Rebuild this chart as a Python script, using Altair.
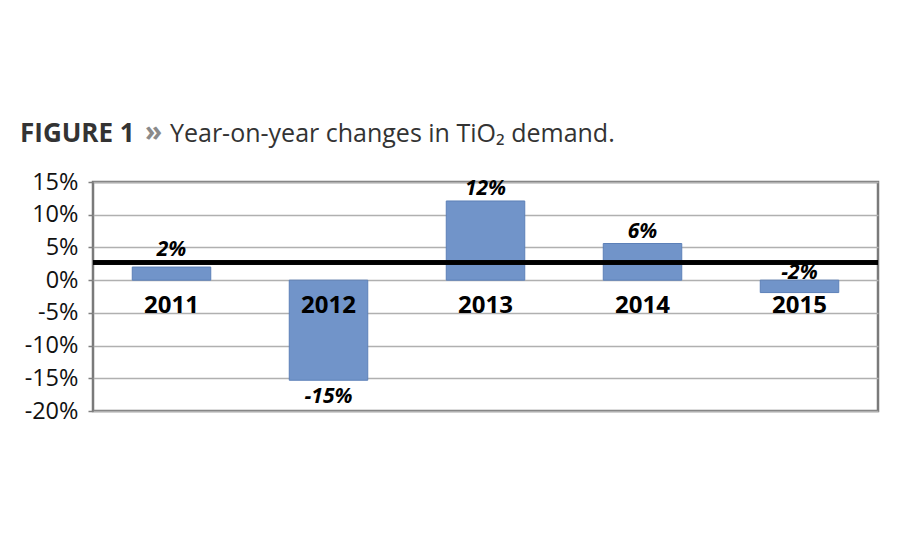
import altair as alt
import pandas as pd

years = ["2011", "2012", "2013", "2014", "2015"]
values = [2.0, -15.3, 12.1, 5.6, -1.9]
labels = ["2%", "-15%", "12%", "6%", "-2%"]
ref_value = 2.7
y_ticks = [-20, -15, -10, -5, 0, 5, 10, 15]

title_bold = "FIGURE 1"
title_sep = "»"
title_rest = "Year-on-year changes in TiO₂ demand."

df = pd.DataFrame({"year": years, "v": values, "label": labels})

FONT = "Open Sans"

x = alt.X("year:N", sort=years, axis=None,
          scale=alt.Scale(paddingInner=0.5, paddingOuter=0.25))
yscale = alt.Scale(domain=[-20, 15], nice=False, zero=False)
yaxis = alt.Axis(values=y_ticks, labelExpr="datum.value + '%'", title=None,
                 domain=False, ticks=True, tickSize=5, tickColor="#7f7f7f",
                 tickWidth=1.5, grid=True, gridColor="#b0b0b0", gridWidth=1.5,
                 labelFont=FONT, labelFontSize=23.5, labelColor="#111",
                 labelPadding=10, labelOverlap=False, labelFlush=False,
                 labelBound=False)


def yf(field):
    return alt.Y(field, scale=yscale, axis=yaxis)


def yd(val):
    return alt.YDatum(val, type="quantitative", scale=yscale, axis=yaxis)


base = alt.Chart(df)

bars = base.mark_bar(color="#7194c9", stroke="#5c80b8", strokeWidth=1).encode(
    x=x, y=yf("v:Q"))

rule = base.mark_rule(color="black", strokeWidth=4).encode(y=yd(ref_value))

year_text = base.mark_text(font=FONT, fontSize=24, fontWeight="bold", color="black",
                           baseline="alphabetic", dy=33).encode(
    x=x, y=yd(0), text="year:N")

label_style = dict(font=FONT, fontSize=21, fontWeight="bold", fontStyle="italic",
                   color="black")

pos_labels = base.transform_filter("datum.v > 0").transform_calculate(
    ly=f"max(datum.v, {ref_value})").mark_text(
    baseline="alphabetic", dy=-6, **label_style).encode(
    x=x, y=yf("ly:Q"), text="label:N")

small_neg_labels = base.transform_filter("datum.v <= 0 && datum.v > -10").transform_calculate(
    ly="0").mark_text(baseline="alphabetic", dy=-1, **label_style).encode(
    x=x, y=yf("ly:Q"), text="label:N")

neg_labels = base.transform_filter("datum.v <= -10").mark_text(
    baseline="top", dy=6, **label_style).encode(
    x=x, y=yf("v:Q"), text="label:N")

t1 = alt.Chart(pd.DataFrame({"t": [title_bold]})).mark_text(
    font=FONT, fontSize=26, fontWeight="bold", color="#333333", align="left",
    baseline="alphabetic").encode(x=alt.value(-73), y=alt.value(-40), text="t:N")
t2 = alt.Chart(pd.DataFrame({"t": [title_sep]})).mark_text(
    font=FONT, fontSize=28, fontWeight="bold", color="#8a8a8a", align="left",
    baseline="alphabetic").encode(x=alt.value(52), y=alt.value(-41), text="t:N")
t3 = alt.Chart(pd.DataFrame({"t": [title_rest]})).mark_text(
    font=FONT, fontSize=25, color="#333333", align="left",
    baseline="alphabetic").encode(x=alt.value(77), y=alt.value(-40), text="t:N")

chart = alt.layer(bars, rule, year_text, pos_labels, small_neg_labels, neg_labels,
                  t1, t2, t3).properties(
    width=785, height=229,
    background="white",
    autosize=alt.AutoSizeParams(type="none"),
    padding={"left": 85, "top": 174, "right": 14, "bottom": 131},
).configure_view(stroke="#7a7a7a", strokeWidth=2.5)

chart.save("out.html", embed_options={"renderer": "svg", "actions": False})
